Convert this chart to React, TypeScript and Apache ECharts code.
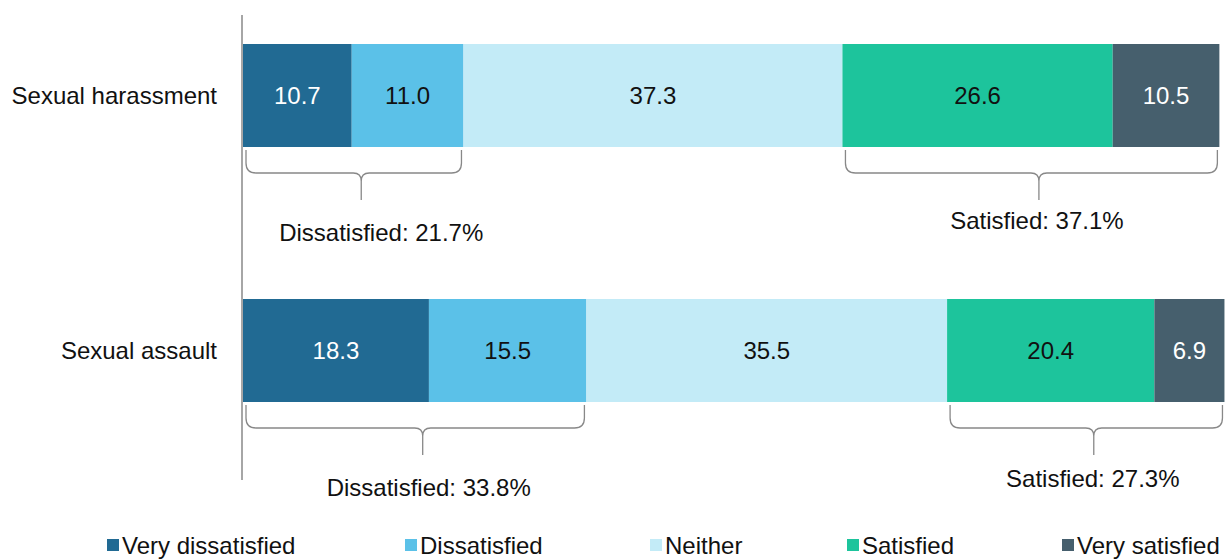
import React, { useEffect, useRef } from "react";
import * as echarts from "echarts";

const categories = ["Sexual harassment", "Sexual assault"];
const seriesNames = ["Very dissatisfied", "Dissatisfied", "Neither", "Satisfied", "Very satisfied"];
const veryDissatisfied = [10.7, 18.3];
const dissatisfied = [11.0, 15.5];
const neither = [37.3, 35.5];
const satisfied = [26.6, 20.4];
const verySatisfied = [10.5, 6.9];

const colors = ["#216a93", "#5bc1e8", "#c3ebf7", "#1dc49c", "#465f6d"];
const labelColors = ["#ffffff", "#111111", "#111111", "#111111", "#ffffff"];
const legendLeft = [107, 405, 650, 847, 1062];
// brace label offsets (dx from tip, dy below tip)
const braceLabelOffsets = [
  [20, 32],
  [-2, 20],
  [6, 32],
  [-1, 23],
];

const FONT = "Liberation Sans";
const FS = 24;

export default function App() {
  const ref = useRef<HTMLDivElement>(null);
  useEffect(() => {
    if (!ref.current) return;
    const chart = echarts.init(ref.current, undefined, { renderer: "svg" });
    const values = [veryDissatisfied, dissatisfied, neither, satisfied, verySatisfied];

    const braceData: any[] = [];
    categories.forEach((_, i) => {
      const dis = veryDissatisfied[i] + dissatisfied[i];
      const satStart = dis + neither[i];
      const sat = satisfied[i] + verySatisfied[i];
      braceData.push([i, 0, dis, "Dissatisfied: " + dis.toFixed(1) + "%"]);
      braceData.push([i, satStart, satStart + sat, "Satisfied: " + sat.toFixed(1) + "%"]);
    });

    const barHalf = 51.5;

    const series: any[] = seriesNames.map((name, k) => ({
      name,
      type: "bar",
      stack: "total",
      barWidth: 103,
      data: values[k],
      itemStyle: { color: colors[k] },
      label: {
        show: true,
        position: "inside",
        color: labelColors[k],
        fontFamily: FONT,
        fontSize: FS,
        formatter: (p: any) => Number(p.value).toFixed(1),
      },
    }));

    series.push({
      type: "custom",
      name: "braces",
      data: braceData,
      encode: { x: [1, 2], y: 0 },
      clip: false,
      renderItem: (params: any, api: any) => {
        const cat = api.value(0);
        const s = api.value(1);
        const e = api.value(2);
        const p0 = api.coord([s, cat]);
        const p1 = api.coord([e, cat]);
        const bottom = p0[1] + barHalf;
        const x0 = p0[0] + 3;
        const x1 = p1[0] - 2;
        const xm = (p0[0] + p1[0]) / 2 + 8;
        const top = bottom + 3;
        const h = bottom + 26;
        const tip = bottom + 53;
        const r = 10;
        const c = 8;
        const d =
          `M${x0},${top} L${x0},${h - r} Q${x0},${h} ${x0 + r},${h} L${xm - c},${h} Q${xm},${h} ${xm},${h + c} L${xm},${tip} ` +
          `M${x1},${top} L${x1},${h - r} Q${x1},${h} ${x1 - r},${h} L${xm + c},${h} Q${xm},${h} ${xm},${h + c}`;
        const off = braceLabelOffsets[params.dataIndex];
        return {
          type: "group",
          children: [
            {
              type: "path",
              shape: { pathData: d },
              style: { stroke: "#888888", lineWidth: 1.3, fill: "none" },
            },
            {
              type: "text",
              x: xm + off[0],
              y: tip + off[1],
              style: {
                text: braceData[params.dataIndex][3],
                fontFamily: FONT,
                fontSize: FS,
                fill: "#111111",
                align: "center",
                verticalAlign: "middle",
              },
            },
          ],
        };
      },
      z: 5,
      silent: true,
    });

    chart.setOption({
      animation: false,
      backgroundColor: "#ffffff",
      grid: { left: 243, top: -32, height: 510, width: 1016, outerBoundsMode: "none", containLabel: false },
      xAxis: { type: "value", min: 0, max: 100, show: false },
      yAxis: {
        type: "category",
        inverse: true,
        data: categories,
        axisLine: { show: false },
        axisTick: { show: false },
        axisLabel: { fontFamily: FONT, fontSize: FS, color: "#111111", margin: 26 },
      },
      legend: seriesNames.map((name, k) => ({
        data: [name],
        left: legendLeft[k],
        top: 533,
        padding: 0,
        icon: "rect",
        itemWidth: 12,
        itemHeight: 12,
        itemGap: 0,
        textStyle: { fontFamily: FONT, fontSize: FS, color: "#111111", padding: [0, 0, 0, -2] },
        selectedMode: false,
      })),
      graphic: [
        {
          type: "line",
          shape: { x1: 242, y1: 15, x2: 242, y2: 480 },
          style: { stroke: "#888888", lineWidth: 1.5 },
        },
      ],
      series,
    });
    return () => chart.dispose();
  }, []);
  return (
    <div
      ref={ref}
      style={{ position: "fixed", left: 0, top: 0, width: 1225, height: 559, background: "#fff" }}
    />
  );
}
